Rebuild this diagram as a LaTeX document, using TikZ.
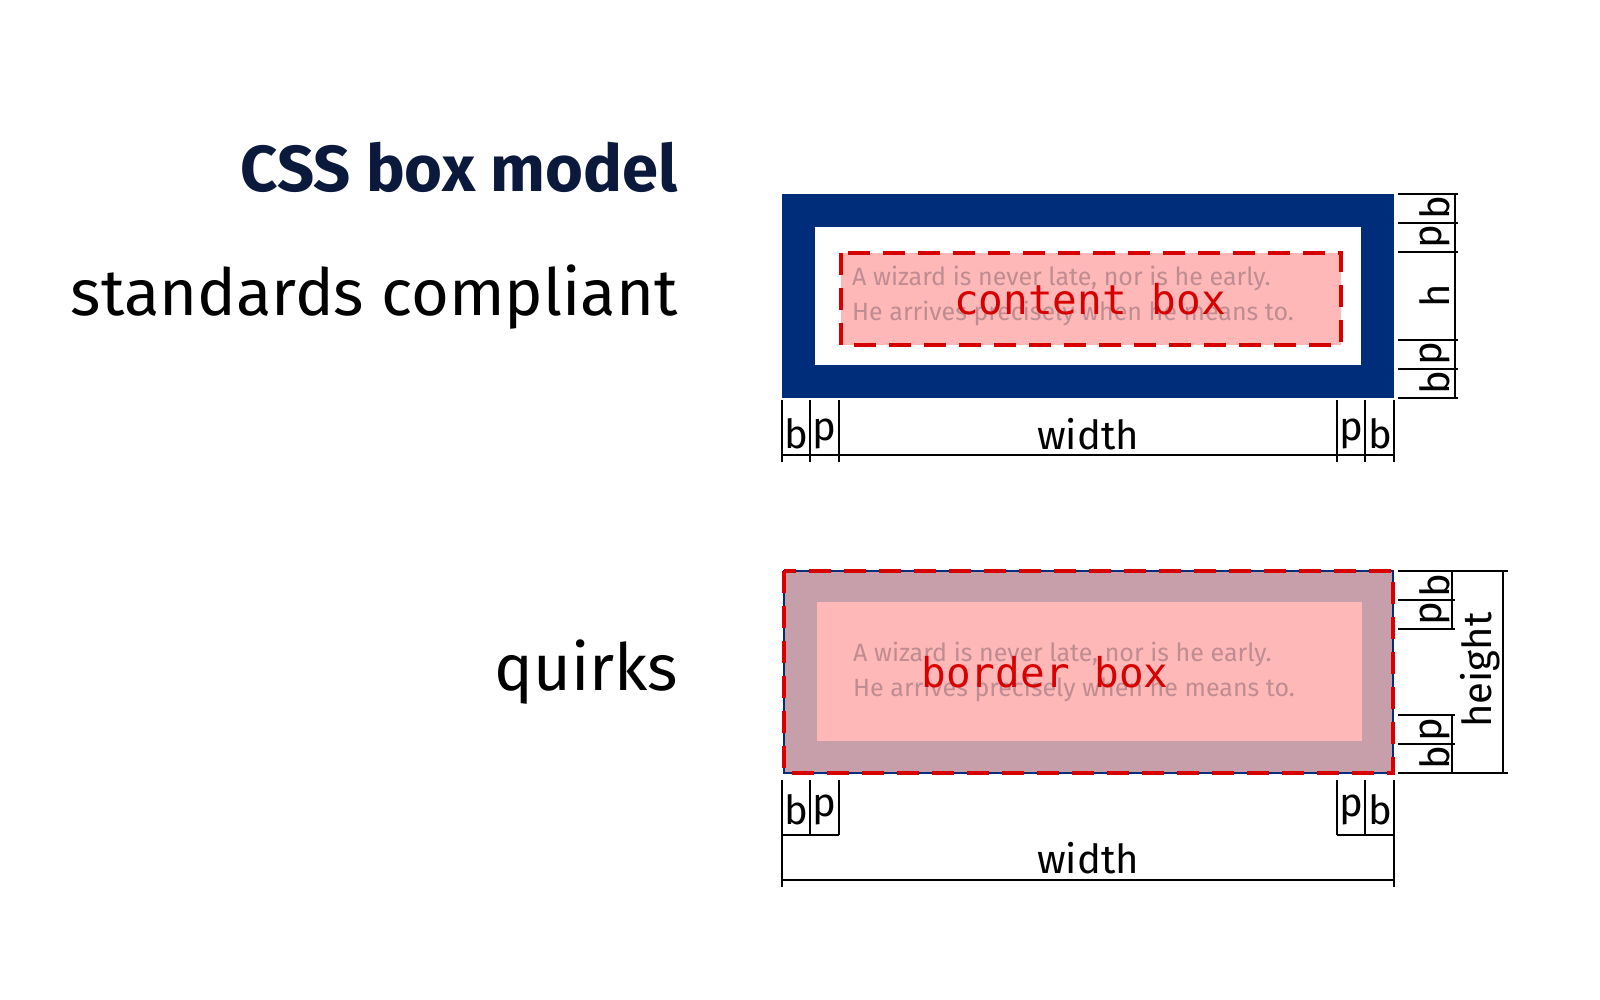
\documentclass[tikz,border=0pt]{standalone}
\usepackage{fontspec}
\setmainfont{Fira Sans}
\newfontfamily\monof{DejaVu Sans Mono}
\begin{document}
\begin{tikzpicture}[x=1pt,y=-1pt,
  dim/.style={line width=1.2pt,black},
  lab/.style={font=\fontsize{40}{40}\selectfont,inner sep=0pt},
  vlab/.style={font=\fontsize{40}{40}\selectfont,inner sep=0pt,rotate=90},
  quote/.style={font=\fontsize{25}{35}\selectfont,text={rgb,255:red,190;green,140;blue,145},align=left,anchor=west,inner sep=0pt},
  mono/.style={font=\monof\fontsize{41}{41}\selectfont,text={rgb,255:red,215;green,0;blue,0},inner sep=0pt},
  reddash/.style={draw={rgb,255:red,215;green,0;blue,0},line width=3.5pt,dash pattern=on 22pt off 13pt}]
\useasboundingbox (0,0) rectangle (1600,1000);
\definecolor{navy}{RGB}{0,45,122}
\definecolor{pinkc}{RGB}{255,184,184}
\definecolor{mauve}{RGB}{198,159,170}
\definecolor{titlec}{RGB}{10,25,60}
% titles
\node[anchor=east,inner sep=0pt,font=\fontsize{65}{65}\selectfont\bfseries,text=titlec] (t1) at (678,167) {CSS box model};
\node[anchor=east,inner sep=0pt,font=\fontsize{65}{65}\selectfont] (t2) at (678,297) {standards compliant};
\node[anchor=east,inner sep=0pt,font=\fontsize{65}{65}\selectfont] (t3) at (678,672) {quirks};
% top box
\fill[navy] (782,194) rectangle (1394,398);
\fill[white] (815,227) rectangle (1361,365);
\fill[pinkc] (841,253) rectangle (1341,345);
\draw[reddash] (841,253) rectangle (1341,345);
\node[quote] (q1) at (852,296) {A wizard is never late, nor is he early.\\He arrives precisely when he means to.};
\node[mono] (cb) at (1090,299) {content box};
% top right dims
\foreach \y in {194,223,252,340,369,398} \draw[dim] (1398,\y) -- (1458,\y);
\draw[dim] (1455,194) -- (1455,398);
\node[vlab] at (1435,208) {b};
\node[vlab] at (1435,237) {p};
\node[vlab] at (1435,296) {h};
\node[vlab] at (1435,354) {p};
\node[vlab] at (1435,383) {b};
% top width dims
\foreach \x in {782,810,839,1337,1365,1394} \draw[dim] (\x,400) -- (\x,462);
\draw[dim] (782,455) -- (1394,455);
\node[lab] at (796,434) {b};
\node[lab] at (824,434) {p};
\node[lab] at (1088,434) {width};
\node[lab] at (1351,434) {p};
\node[lab] at (1380,434) {b};
% bottom box
\fill[mauve] (784,571) rectangle (1393,773);
\draw[navy,line width=1.5pt] (784,571) rectangle (1393,773);
\fill[pinkc] (817,602) rectangle (1362,741);
\draw[reddash] (784,571) rectangle (1393,773);
\node[quote] (q2) at (853,672) {A wizard is never late, nor is he early.\\He arrives precisely when he means to.};
\node[mono] (bb) at (1045,672) {border box};
% bottom right dims
\foreach \y in {600,629,715,744} \draw[dim] (1398,\y) -- (1455,\y);
\foreach \y in {571,773} \draw[dim] (1398,\y) -- (1508,\y);
\draw[dim] (1452,571) -- (1452,629);
\draw[dim] (1452,715) -- (1452,773);
\draw[dim] (1503,571) -- (1503,773);
\node[vlab] at (1435,586) {b};
\node[vlab] at (1435,614) {p};
\node[vlab] at (1435,730) {p};
\node[vlab] at (1435,758) {b};
\node[vlab] at (1480,670) {height};
% bottom width dims
\foreach \x in {810,839,1337,1365} \draw[dim] (\x,780) -- (\x,835);
\draw[dim] (782,835) -- (839,835);
\draw[dim] (1337,835) -- (1394,835);
\foreach \x in {782,1394} \draw[dim] (\x,780) -- (\x,887);
\draw[dim] (782,880) -- (1394,880);
\node[lab] at (796,810) {b};
\node[lab] at (824,810) {p};
\node[lab] at (1351,810) {p};
\node[lab] at (1380,810) {b};
\node[lab] at (1088,858) {width};
\end{tikzpicture}
\end{document}
